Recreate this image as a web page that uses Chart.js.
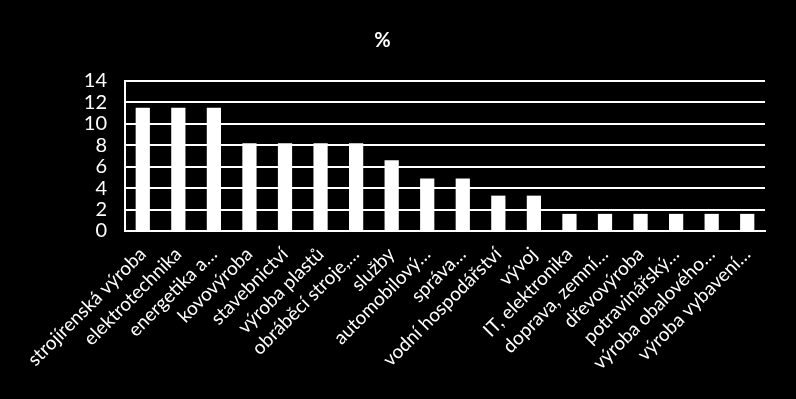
<!DOCTYPE html>
<html>
<head>
<meta charset="utf-8">
<script src="https://cdn.jsdelivr.net/npm/chart.js@4"></script>
<style>
html,body{margin:0;padding:0;background:#000;}
#wrap{width:796px;height:399px;position:relative;}
</style>
</head>
<body>
<div id="wrap"><canvas id="c" width="796" height="399"></canvas></div>
<script>
const categories = [
  "strojírenská výroba", "elektrotechnika", "energetika a…", "kovovýroba",
  "stavebnictví", "výroba plastů", "obráběcí stroje,…", "služby",
  "automobilový…", "správa…", "vodní hospodářství", "vývoj",
  "IT, elektronika", "doprava, zemní…", "dřevovýroba", "potravinářský…",
  "výroba obalového…", "výroba vybavení…"
];
const percentValues = [11.5, 11.5, 11.5, 8.2, 8.2, 8.2, 8.2, 6.6, 4.9, 4.9, 3.3, 3.3, 1.6, 1.6, 1.6, 1.6, 1.6, 1.6];
const yTicks = [0, 2, 4, 6, 8, 10, 12, 14];
const titleText = "%";

Chart.defaults.font.family = "Lato, 'Open Sans', sans-serif";
Chart.defaults.color = "#fff";

new Chart(document.getElementById('c'), {
  type: 'bar',
  data: {
    labels: categories,
    datasets: [{
      data: percentValues,
      backgroundColor: '#ffffff',
      borderWidth: 0,
      barPercentage: 0.4,
      categoryPercentage: 1.0
    }]
  },
  options: {
    responsive: false,
    animation: false,
    layout: { padding: { left: 0, right: 31, top: 0, bottom: 0 } },
    plugins: {
      legend: { display: false },
      tooltip: { enabled: false },
      title: {
        display: true,
        text: titleText,
        color: '#fff',
        font: { size: 20, weight: 'bold' },
        padding: { top: 29, bottom: 28 }
      }
    },
    scales: {
      x: {
        grid: { display: false, drawTicks: false },
        border: { display: true, color: '#fff', width: 2 },
        ticks: {
          color: '#fff',
          font: { size: 19 },
          minRotation: 45,
          maxRotation: 45,
          autoSkip: false,
          padding: 12
        },
        afterFit: (s) => { s.height = 168; }
      },
      y: {
        min: 0,
        max: 14,
        afterBuildTicks: (s) => { s.ticks = yTicks.map(v => ({ value: v })); },
        grid: { color: '#fff', lineWidth: 2, drawTicks: false },
        border: { display: true, color: '#fff', width: 2 },
        ticks: {
          color: '#fff',
          font: { size: 20 },
          padding: 18,
          autoSkip: false
        },
        afterFit: (s) => { s.width = 125; }
      }
    }
  }
});
</script>
</body>
</html>
